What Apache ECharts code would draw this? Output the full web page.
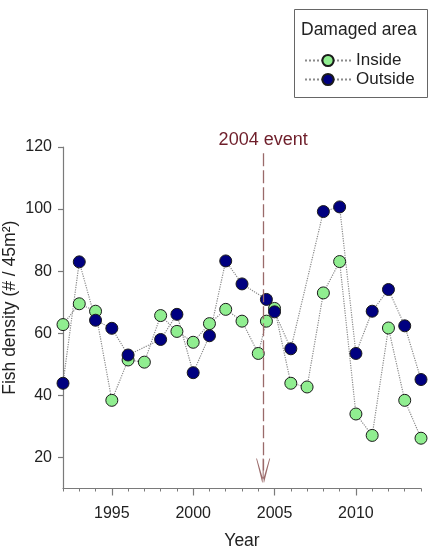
<!DOCTYPE html>
<html>
<head>
<meta charset="utf-8">
<script src="https://cdn.jsdelivr.net/npm/echarts@6/dist/echarts.min.js"></script>
<style>
html,body{margin:0;padding:0;background:#fff;}
#chart{width:432px;height:555px;}
</style>
</head>
<body>
<div id="chart"></div>
<script>
// fish density, inside / outside the damaged area
var insideYears = [1992,1993,1994,1995,1996,1997,1998,1999,2000,2001,2002,2003,2004,2004.5,2005,2006,2007,2008,2009,2010,2011,2012,2013,2014];
var insideValues = [62.8,69.5,67.1,38.4,51.4,50.7,65.7,60.6,57.1,63.1,67.7,63.9,53.5,63.9,68,43.9,42.7,73,83.1,34,27.1,61.7,38.4,26.2];
var outsideYears = [1992,1993,1994,1995,1996,1998,1999,2000,2001,2002,2003,2004.5,2005,2006,2008,2009,2010,2011,2012,2013,2014];
var outsideValues = [43.9,83,64.2,61.6,53,58,66.1,47.3,59.2,83.3,75.9,70.9,66.9,55,99.2,100.7,53.5,67.1,74.1,62.4,45.1];
var yTicks = [20,40,60,80,100,120];
var xTicks = [1995,2000,2005,2010];
var eventYear = 2004.3;

function pairs(xs, ys){
	var out = [];
	for (var i = 0; i < xs.length; i++) out.push([xs[i], ys[i]]);
	return out;
}

var chart = echarts.init(document.getElementById('chart'));
var font = 'Liberation Sans, Arial, sans-serif';
var axisGray = '#7a7a7a';

var option = {
	animation: false,
	textStyle: { fontFamily: font },
	grid: { left: 63, right: 11, top: 147, bottom: 66.5, containLabel: false, outerBoundsMode: 'none' },
	xAxis: [{
		type: 'value', min: 1992, max: 2014, position: 'bottom',
		name: 'Year', nameLocation: 'middle', nameGap: 44, nameMoveOverlap: false,
		nameTextStyle: { fontSize: 17.5, color: '#222', fontFamily: font },
		axisLine: { show: true, lineStyle: { color: axisGray, width: 1.2 } },
		axisTick: { show: true, customValues: xTicks, length: 7, lineStyle: { color: axisGray, width: 1.2 } },
		axisLabel: { customValues: xTicks, margin: 17, fontSize: 16, color: '#222', fontFamily: font,
			formatter: function(v){ return String(v); } },
		splitLine: { show: false }
	}, {
		type: 'value', min: 1992, max: 2014, interval: 1, position: 'bottom',
		axisLine: { show: false },
		axisTick: { show: true, length: 3, lineStyle: { color: axisGray } },
		axisLabel: { show: false },
		splitLine: { show: false }
	}],
	yAxis: {
		type: 'value', min: 10, max: 120,
		name: 'Fish density (# / 45m²)', nameLocation: 'middle', nameGap: 44, nameMoveOverlap: false,
		nameTextStyle: { fontSize: 17.5, color: '#222', fontFamily: font, padding: [0, 0, 0, 20] },
		axisLine: { show: true, lineStyle: { color: axisGray, width: 1.2 } },
		axisTick: { show: true, customValues: yTicks, length: 5, lineStyle: { color: axisGray, width: 1.2 } },
		axisLabel: { customValues: yTicks, margin: 11, fontSize: 16, color: '#222', fontFamily: font },
		splitLine: { show: false }
	},
	legend: {
		orient: 'vertical', left: 299, top: 47,
		itemWidth: 46, itemHeight: 14, itemGap: 2,
		textStyle: { fontSize: 17, color: '#222', fontFamily: font },
		data: ['Inside', 'Outside']
	},
	graphic: [{
		type: 'rect', left: 294, top: 9,
		shape: { width: 133, height: 88 },
		style: { fill: '#fff', stroke: '#666', lineWidth: 1 },
		z: -1
	}, {
		type: 'text', left: 301, top: 21,
		style: { text: 'Damaged area', fontSize: 17.5, fill: '#222', fontFamily: font }
	}],
	series: [{
		name: 'Inside', type: 'line', xAxisIndex: 0,
		data: pairs(insideYears, insideValues),
		symbol: 'circle', symbolSize: 12, clip: false,
		lineStyle: { color: '#8a8a8a', width: 1.2, type: 'dotted' },
		itemStyle: { color: '#90ee90', borderColor: '#1a1a1a', borderWidth: 1 },
		markLine: {
			silent: true,
			symbol: ['none', 'path://M0,0 L-1,0 L-7,24 L-6.2,24 L0,3 L6.2,24 L7,24 L1,0 Z M-0.5,0 L0.5,0 L0.5,24 L-0.5,24 Z'],
			symbolSize: [14, 24],
			lineStyle: { color: '#9a6a6a', width: 1.3, type: [13, 4] },
			label: { show: true, position: 'start', formatter: '2004 event', color: '#6e1e2a', fontSize: 18, distance: 4, fontFamily: font },
			data: [[{ coord: [eventYear, 118] }, { coord: [eventYear, 15.8] }]]
		}
	}, {
		name: 'Outside', type: 'line', xAxisIndex: 0,
		data: pairs(outsideYears, outsideValues),
		symbol: 'circle', symbolSize: 12, clip: false,
		lineStyle: { color: '#8a8a8a', width: 1.2, type: 'dotted' },
		itemStyle: { color: '#000080', borderColor: '#1a1a1a', borderWidth: 1 }
	}]
};
chart.setOption(option);
</script>
</body>
</html>
